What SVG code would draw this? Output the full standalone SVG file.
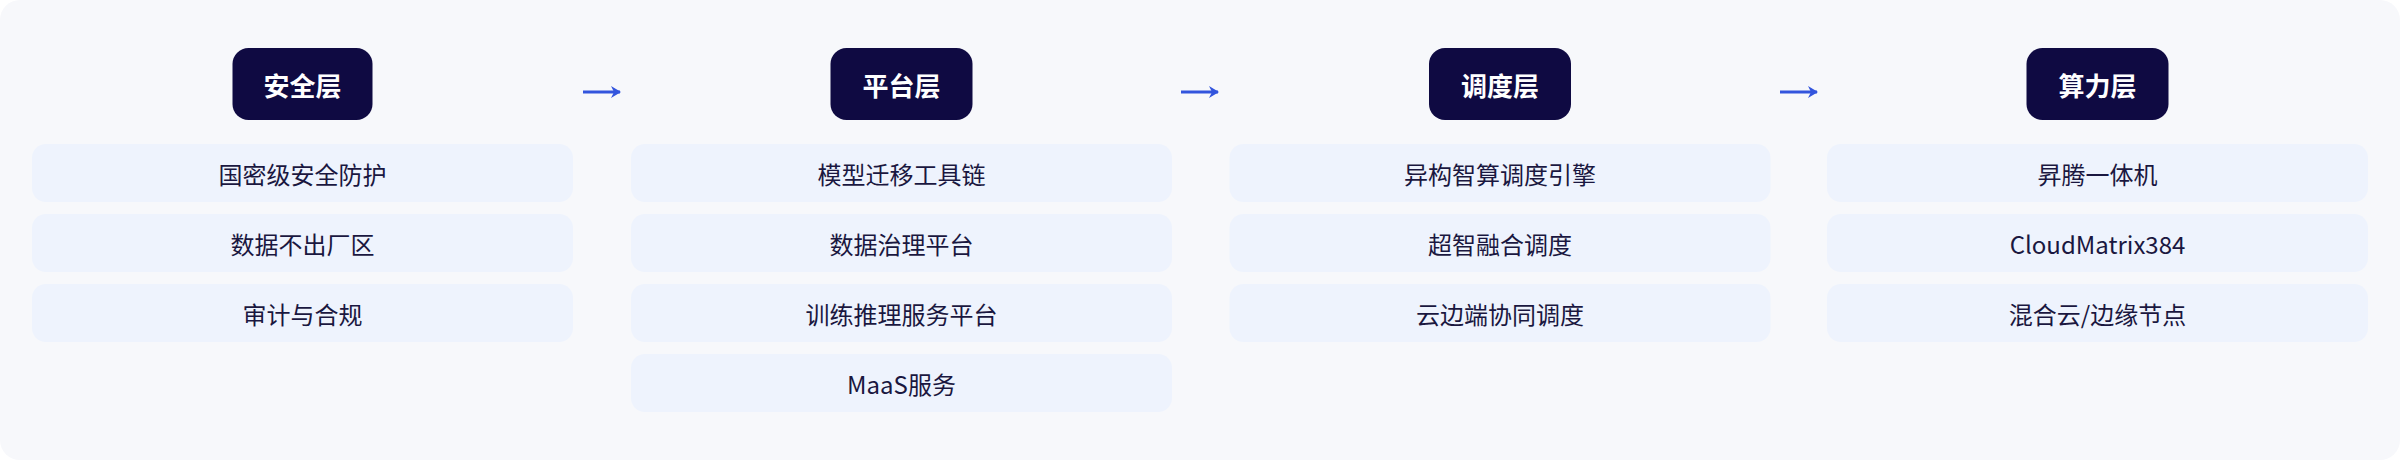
<svg xmlns="http://www.w3.org/2000/svg" width="2400" height="460" viewBox="0 0 2400 460">
<defs>
<style>
.bg{fill:#f7f8fb}
.hdr{fill:#0f0a42}
.hdr-t{font-family:"Noto Sans CJK SC","Noto Sans",sans-serif;font-size:26px;font-weight:700;fill:#ffffff;text-anchor:middle;dominant-baseline:central}
.item{fill:#eef3fd}
.item-t{font-family:"Noto Sans CJK SC","Noto Sans",sans-serif;font-size:24px;fill:#1a1740;text-anchor:middle;dominant-baseline:central}
.conn{stroke:#3355dd;stroke-width:3;fill:none}
</style>
<marker id="ah" viewBox="0 0 10 12" refX="9" refY="6" markerWidth="10" markerHeight="12" markerUnits="userSpaceOnUse" orient="auto">
<path d="M0,0 L10,6 L0,12 L3,6 Z" fill="#3355dd"/>
</marker>
</defs>
<rect width="2400" height="460" fill="#ffffff"/>
<rect class="bg" x="0" y="0" width="2400" height="460" rx="20"/>

<g id="col-security">
<g id="hdr-security"><rect class="hdr" x="232.5" y="48" width="140" height="72" rx="16"/><text class="hdr-t" x="302.5" y="84">安全层</text></g>
<g id="sec-1"><rect class="item" x="32" y="144" width="541" height="58" rx="14"/><text class="item-t" x="302.5" y="173">国密级安全防护</text></g>
<g id="sec-2"><rect class="item" x="32" y="214" width="541" height="58" rx="14"/><text class="item-t" x="302.5" y="243">数据不出厂区</text></g>
<g id="sec-3"><rect class="item" x="32" y="284" width="541" height="58" rx="14"/><text class="item-t" x="302.5" y="313">审计与合规</text></g>
</g>

<g id="col-platform">
<g id="hdr-platform"><rect class="hdr" x="830.5" y="48" width="142" height="72" rx="16"/><text class="hdr-t" x="901.5" y="84">平台层</text></g>
<g id="plat-1"><rect class="item" x="631" y="144" width="541" height="58" rx="14"/><text class="item-t" x="901.5" y="173">模型迁移工具链</text></g>
<g id="plat-2"><rect class="item" x="631" y="214" width="541" height="58" rx="14"/><text class="item-t" x="901.5" y="243">数据治理平台</text></g>
<g id="plat-3"><rect class="item" x="631" y="284" width="541" height="58" rx="14"/><text class="item-t" x="901.5" y="313">训练推理服务平台</text></g>
<g id="plat-4"><rect class="item" x="631" y="354" width="541" height="58" rx="14"/><text class="item-t" x="901.5" y="383">MaaS服务</text></g>
</g>

<g id="col-schedule">
<g id="hdr-schedule"><rect class="hdr" x="1429" y="48" width="142" height="72" rx="16"/><text class="hdr-t" x="1500" y="84">调度层</text></g>
<g id="sch-1"><rect class="item" x="1229.5" y="144" width="541" height="58" rx="14"/><text class="item-t" x="1500" y="173">异构智算调度引擎</text></g>
<g id="sch-2"><rect class="item" x="1229.5" y="214" width="541" height="58" rx="14"/><text class="item-t" x="1500" y="243">超智融合调度</text></g>
<g id="sch-3"><rect class="item" x="1229.5" y="284" width="541" height="58" rx="14"/><text class="item-t" x="1500" y="313">云边端协同调度</text></g>
</g>

<g id="col-compute">
<g id="hdr-compute"><rect class="hdr" x="2026.5" y="48" width="142" height="72" rx="16"/><text class="hdr-t" x="2097.5" y="84">算力层</text></g>
<g id="cmp-1"><rect class="item" x="1827" y="144" width="541" height="58" rx="14"/><text class="item-t" x="2097.5" y="173">昇腾一体机</text></g>
<g id="cmp-2"><rect class="item" x="1827" y="214" width="541" height="58" rx="14"/><text class="item-t" x="2097.5" y="243">CloudMatrix384</text></g>
<g id="cmp-3"><rect class="item" x="1827" y="284" width="541" height="58" rx="14"/><text class="item-t" x="2097.5" y="313">混合云/边缘节点</text></g>
</g>

<g id="connectors">
<path class="conn" d="M583,92 L620,92" marker-end="url(#ah)"/>
<path class="conn" d="M1181,92 L1218,92" marker-end="url(#ah)"/>
<path class="conn" d="M1780,92 L1817,92" marker-end="url(#ah)"/>
</g>
</svg>
